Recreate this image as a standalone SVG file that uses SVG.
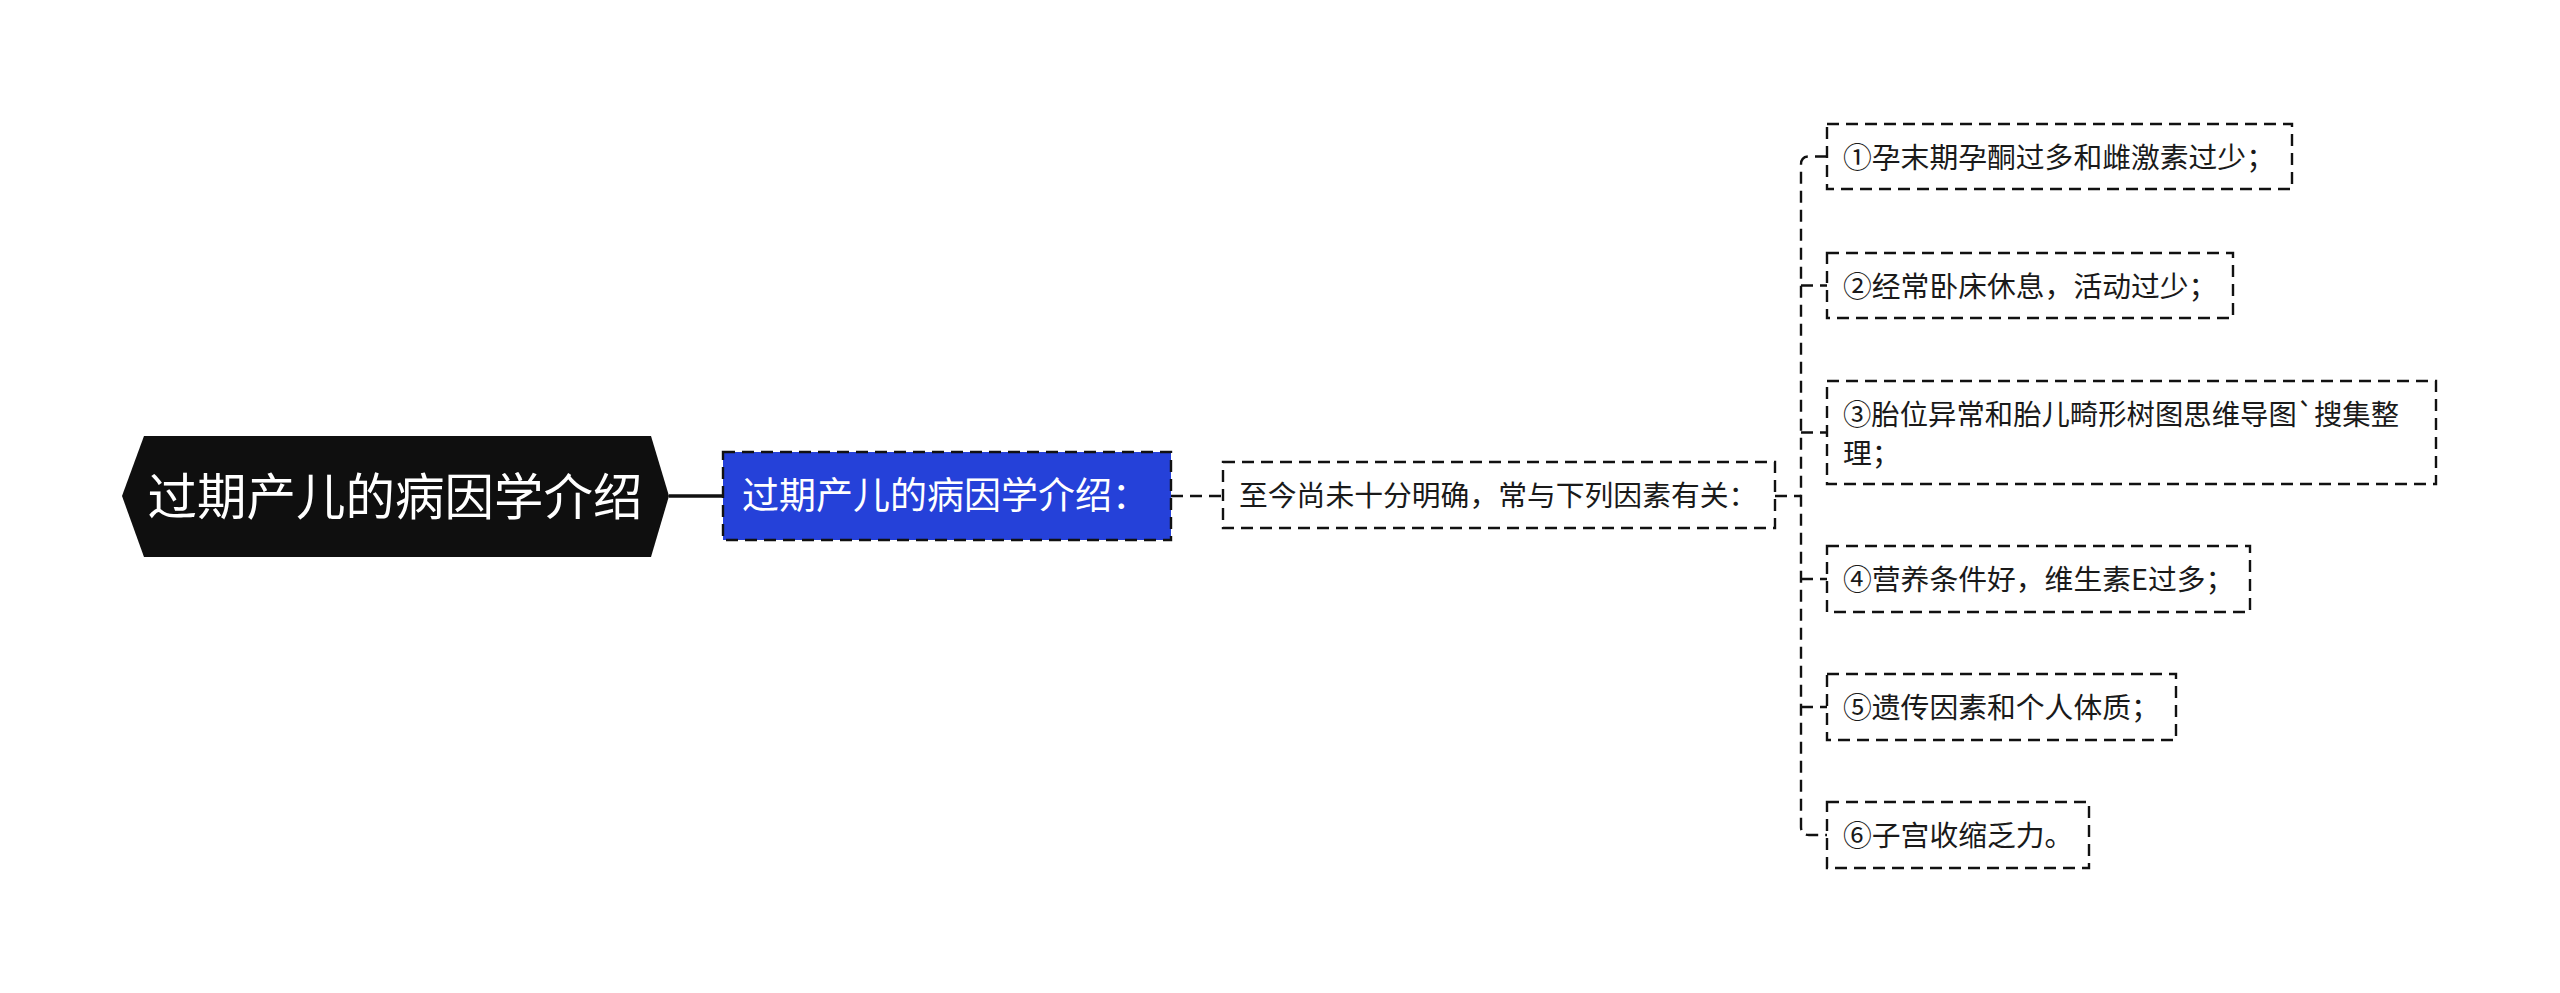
<svg xmlns="http://www.w3.org/2000/svg" width="2560" height="993" viewBox="0 0 2560 993">
<style>
.t{font-family:"Noto Sans CJK SC","Noto Sans",sans-serif;}
.box{fill:#ffffff;stroke:#111;stroke-width:2.4;stroke-dasharray:12 7;}
.c{fill:none;stroke:#111;stroke-width:2.4;stroke-dasharray:12 7;}
.ct{font-size:28.8px;fill:#1a1a1a;}
</style>
<rect width="2560" height="993" fill="#ffffff"/>
<g id="connectors">
<line x1="669" y1="496" x2="723" y2="496" stroke="#111" stroke-width="3.5"/>
<line x1="1171" y1="496" x2="1223" y2="496" class="c"/>
<line x1="1775" y1="496" x2="1801" y2="496" class="c"/>
<path class="c" d="M1827,156.5 H1809 Q1801,156.5 1801,164.5 V827 Q1801,835 1809,835 H1827"/>
<line x1="1801" y1="285.5" x2="1827" y2="285.5" class="c"/>
<line x1="1801" y1="432.5" x2="1827" y2="432.5" class="c"/>
<line x1="1801" y1="579" x2="1827" y2="579" class="c"/>
<line x1="1801" y1="707" x2="1827" y2="707" class="c"/>
</g>
<g id="root">
<path d="M122,496 L144,436 L651,436 L669,496 L651,557 L144,557 Z" fill="#0f0f0f"/>
<text class="t" x="395" y="515" font-size="49.5" fill="#ffffff" text-anchor="middle">过期产儿的病因学介绍</text>
</g>
<g id="n1">
<rect x="723" y="452" width="448" height="88" fill="#2541d9" stroke="#111" stroke-width="2.4" stroke-dasharray="12 7"/>
<text class="t" x="742" y="509" font-size="37" fill="#ffffff">过期产儿的病因学介绍：</text>
</g>
<g id="n2">
<rect class="box" x="1223" y="462" width="552" height="66"/>
<text class="t ct" x="1239" y="506">至今尚未十分明确，常与下列因素有关：</text>
</g>
<g id="c1">
<rect class="box" x="1827" y="124" width="465" height="65"/>
<text class="t ct" x="1843" y="168">①孕末期孕酮过多和雌激素过少；</text>
</g>
<g id="c2">
<rect class="box" x="1827" y="253" width="406" height="65"/>
<text class="t ct" x="1843" y="297">②经常卧床休息，活动过少；</text>
</g>
<g id="c3">
<rect class="box" x="1827" y="381" width="609" height="103"/>
<text class="t ct" x="1843" y="425" textLength="556" lengthAdjust="spacingAndGlyphs">③胎位异常和胎儿畸形树图思维导图`搜集整</text>
<text class="t ct" x="1843" y="464">理；</text>
</g>
<g id="c4">
<rect class="box" x="1827" y="546" width="423" height="66"/>
<text class="t ct" x="1843" y="590">④营养条件好，维生素E过多；</text>
</g>
<g id="c5">
<rect class="box" x="1827" y="674" width="349" height="66"/>
<text class="t ct" x="1843" y="718">⑤遗传因素和个人体质；</text>
</g>
<g id="c6">
<rect class="box" x="1827" y="802" width="262" height="66"/>
<text class="t ct" x="1843" y="846">⑥子宫收缩乏力。</text>
</g>
</svg>
